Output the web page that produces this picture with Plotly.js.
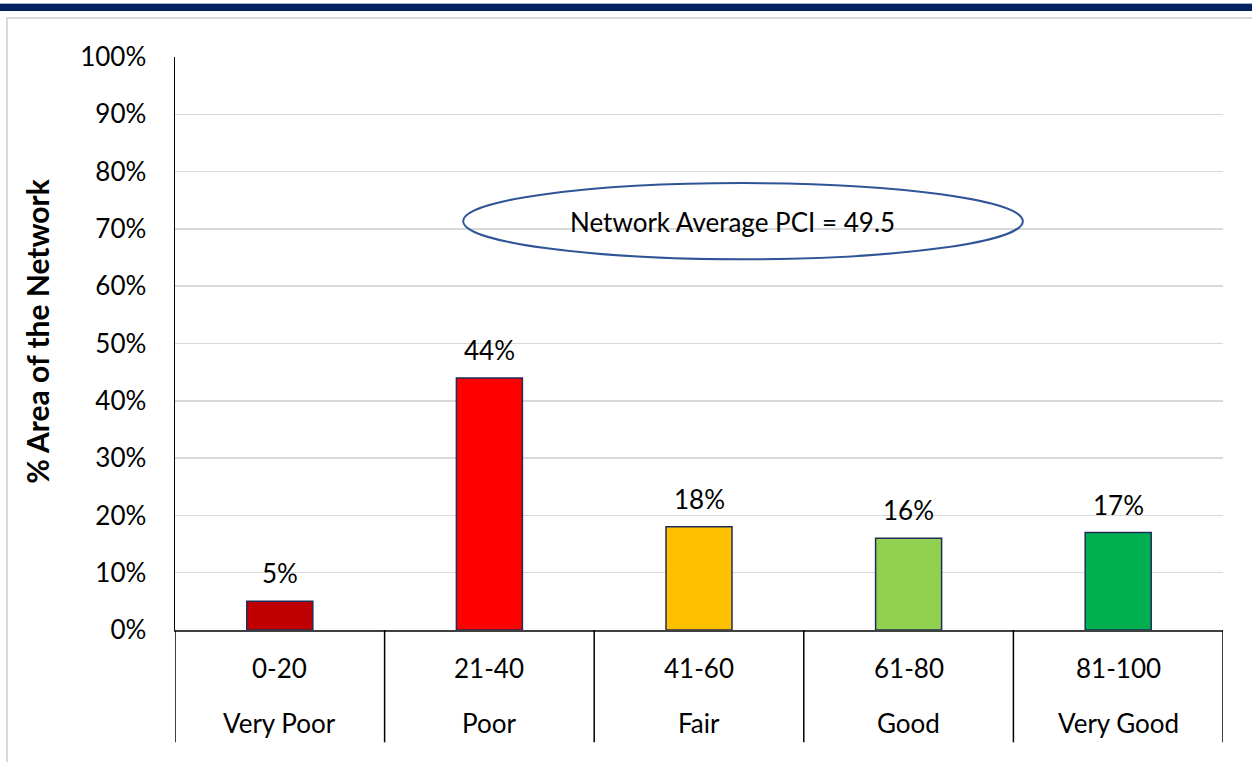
<!DOCTYPE html>
<html>
<head>
<meta charset="utf-8">
<script src="https://cdn.plot.ly/plotly-3.0.1.min.js"></script>
<style>
html,body{margin:0;padding:0;background:#fff;width:1252px;height:762px;overflow:hidden;}
#topline{position:absolute;left:0;top:3px;width:1252px;height:1px;background:#9fb0d0;}
#band{position:absolute;left:0;top:4px;width:1252px;height:7px;background:#002060;}
#frame{position:absolute;left:6px;top:17px;width:1260px;height:760px;border-left:2px solid #d9d9d9;border-top:2px solid #d9d9d9;}
#chart{position:absolute;left:0;top:0;width:1252px;height:762px;}
</style>
</head>
<body>
<div id="topline"></div>
<div id="band"></div>
<div id="frame"></div>
<div id="chart"></div>
<script>
const ranges = ["0-20", "21-40", "41-60", "61-80", "81-100"];
const conditions = ["Very Poor", "Poor", "Fair", "Good", "Very Good"];
const values = [0.05, 0.44, 0.18, 0.16, 0.17];
const colors = ["#C00000", "#FF0000", "#FFC000", "#92D050", "#00B050"];
const yTicks = [0, 0.1, 0.2, 0.3, 0.4, 0.5, 0.6, 0.7, 0.8, 0.9, 1.0];
const yTitle = "% Area of the Network";
const noteText = "Network Average PCI = 49.5";

const FONT = "Lato, 'Open Sans', sans-serif";
const FS = 26;
const xs = ranges.map((_, i) => i);

const trace = {
  type: "bar",
  x: xs,
  y: values,
  width: 0.315,
  marker: {color: colors, line: {color: "#1F2D5A", width: 1.5}},
  hoverinfo: "skip"
};

const annotations = [];
values.forEach((v, i) => {
  annotations.push({
    x: i, y: v, xref: "x", yref: "y",
    text: Math.round(v * 100) + "%",
    showarrow: false, yanchor: "bottom", yshift: 10,
    font: {family: FONT, size: FS, color: "#000"}
  });
  annotations.push({
    x: i, y: -0.066, xref: "x", yref: "paper",
    text: ranges[i], showarrow: false, yanchor: "middle",
    font: {family: FONT, size: FS, color: "#000"}
  });
  annotations.push({
    x: i, y: -0.162, xref: "x", yref: "paper",
    text: conditions[i], showarrow: false, yanchor: "middle",
    font: {family: FONT, size: FS, color: "#000"}
  });
});
annotations.push({
  x: 0.532, y: 0.712, xref: "paper", yref: "y",
  text: noteText, showarrow: false,
  font: {family: FONT, size: FS, color: "#000"}
});
annotations.push({
  x: -0.1317, y: 0.522, xref: "paper", yref: "paper",
  text: "<b>" + yTitle + "</b>", showarrow: false, textangle: -90,
  xanchor: "center", yanchor: "middle",
  font: {family: FONT, size: 30, color: "#000"}
});

const shapes = [];
for (let k = 0; k <= ranges.length; k++) {
  shapes.push({
    type: "line", xref: "x", yref: "paper",
    x0: k - 0.5, x1: k - 0.5, y0: 0, y1: -0.196,
    line: {color: "#000", width: 1.5}, layer: "above"
  });
}
shapes.push({
  type: "circle", xref: "paper", yref: "y",
  x0: 0.275, x1: 0.809, y0: 0.647, y1: 0.780,
  line: {color: "#2F5597", width: 2}, fillcolor: "rgba(0,0,0,0)"
});

const layout = {
  width: 1252, height: 762,
  margin: {l: 175, r: 29, t: 57, b: 132},
  paper_bgcolor: "rgba(0,0,0,0)",
  plot_bgcolor: "rgba(0,0,0,0)",
  showlegend: false,
  font: {family: FONT, size: FS, color: "#000"},
  xaxis: {
    range: [-0.5, 4.5], showticklabels: false, showgrid: false, zeroline: false,
    showline: true, linecolor: "#404040", linewidth: 1.5, ticks: "", fixedrange: true
  },
  yaxis: {
    range: [0, 1], tickvals: yTicks, tickformat: ".0%",
    showgrid: true, gridcolor: "#D9D9D9", gridwidth: 1.5, zeroline: false,
    showline: true, linecolor: "#000", linewidth: 1.5, ticks: "",
    ticklabelstandoff: 22,
    tickfont: {family: FONT, size: FS, color: "#000"},
    fixedrange: true
  },
  annotations: annotations,
  shapes: shapes
};

Plotly.newPlot("chart", [trace], layout, {displayModeBar: false, staticPlot: true});
</script>
</body>
</html>
